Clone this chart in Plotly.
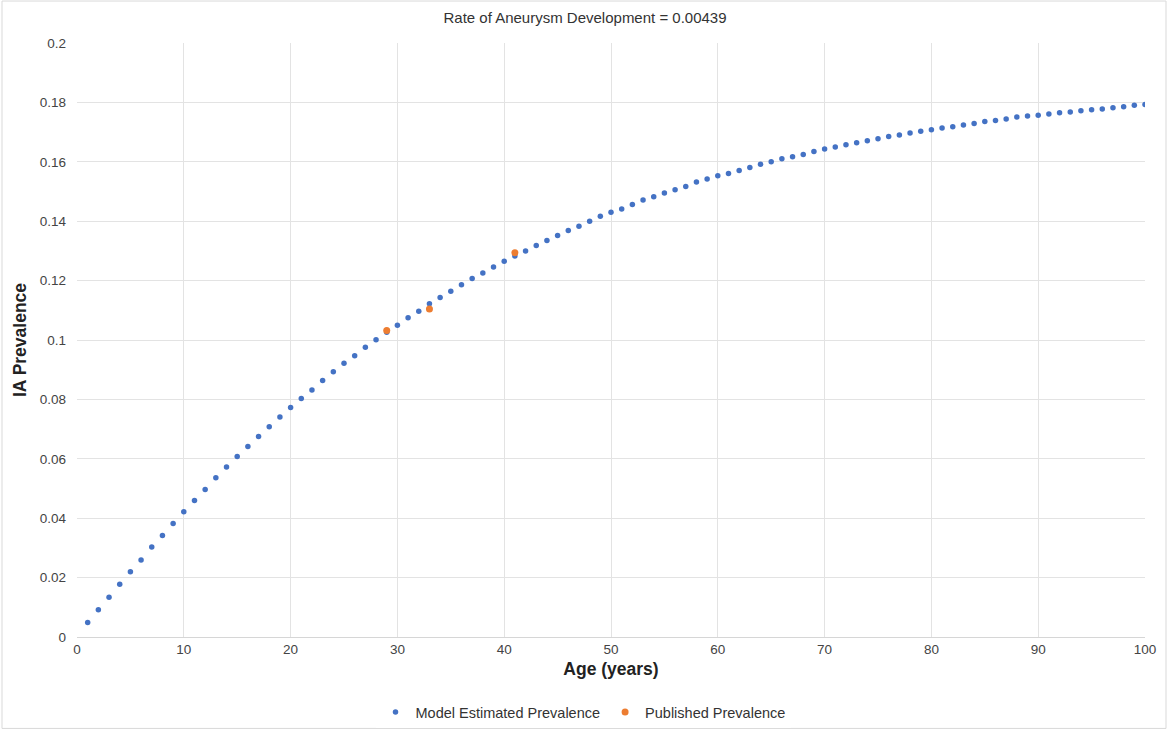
import plotly.graph_objects as go

ages = list(range(1, 101))
model_prevalence = [
    0.0049, 0.0092, 0.0134, 0.0178, 0.0220, 0.0259, 0.0303, 0.0342, 0.0382, 0.0422,
    0.0460, 0.0497, 0.0536, 0.0572, 0.0608, 0.0641, 0.0675, 0.0708, 0.0741, 0.0773,
    0.0803, 0.0832, 0.0864, 0.0893, 0.0922, 0.0947, 0.0976, 0.1001, 0.1026, 0.1050,
    0.1075, 0.1097, 0.1122, 0.1143, 0.1164, 0.1186, 0.1207, 0.1226, 0.1246, 0.1265,
    0.1283, 0.1300, 0.1318, 0.1335, 0.1352, 0.1369, 0.1383, 0.1400, 0.1417, 0.1430,
    0.1441, 0.1456, 0.1471, 0.1482, 0.1495, 0.1506, 0.1517, 0.1532, 0.1542, 0.1553,
    0.1561, 0.1571, 0.1581, 0.1592, 0.1600, 0.1610, 0.1617, 0.1625, 0.1635, 0.1643,
    0.1650, 0.1657, 0.1664, 0.1671, 0.1678, 0.1685, 0.1690, 0.1697, 0.1703, 0.1708,
    0.1714, 0.1718, 0.1724, 0.1729, 0.1736, 0.1739, 0.1744, 0.1751, 0.1754, 0.1757,
    0.1761, 0.1765, 0.1768, 0.1772, 0.1775, 0.1778, 0.1782, 0.1785, 0.1790, 0.1793,
]
published_ages = [29, 33, 41]
published_prevalence = [0.1032, 0.1104, 0.1294]

x_ticks = [0, 10, 20, 30, 40, 50, 60, 70, 80, 90, 100]
y_ticks = [0, 0.02, 0.04, 0.06, 0.08, 0.1, 0.12, 0.14, 0.16, 0.18, 0.2]
y_tick_labels = ["0", "0.02", "0.04", "0.06", "0.08", "0.1", "0.12", "0.14", "0.16", "0.18", "0.2"]

FONT = "Arial, Liberation Sans, Helvetica, sans-serif"
W, H = 1168, 730
L, R, T, B = 77, 1145, 43, 637.5
PW, PH = R - L, B - T

fig = go.Figure()
fig.add_trace(go.Scatter(
    x=ages, y=model_prevalence, mode="markers", name="Model Estimated Prevalence",
    marker=dict(color="#4472C4", size=5.5),
))
fig.add_trace(go.Scatter(
    x=published_ages, y=published_prevalence, mode="markers", name="Published Prevalence",
    marker=dict(color="#ED7D31", size=7),
))

fig.update_layout(
    width=W, height=H,
    paper_bgcolor="white", plot_bgcolor="white",
    margin=dict(l=L, r=W - R, t=T, b=H - B),
    font=dict(family=FONT, color="#444444", size=13),
    title=dict(text="Rate of Aneurysm Development = 0.00439", x=585 / W, xref="container",
               y=1 - 18 / H, yref="container", yanchor="middle", xanchor="center",
               font=dict(size=15, color="#333333", family=FONT)),
    showlegend=True,
    legend=dict(orientation="h", x=583 / W, xanchor="center", xref="container",
                y=1 - 712 / H, yref="container", yanchor="middle",
                font=dict(size=14.5, color="#333333"), itemwidth=30,
                tracegroupgap=0),
    xaxis=dict(range=[0, 100], tickvals=x_ticks, showgrid=True, gridcolor="#e3e3e3",
               gridwidth=1, zeroline=False, showline=True, linecolor="#d6d6d6",
               ticks="", tickfont=dict(size=13.5, color="#444444"),
               title=dict(text="<b>Age (years)</b>", font=dict(size=17.5, color="#222222"), standoff=6)),
    yaxis=dict(range=[0, 0.2], tickvals=y_ticks, ticktext=y_tick_labels, showgrid=True,
               gridcolor="#e3e3e3", gridwidth=1, zeroline=False, showline=False,
               ticks="", ticklabelstandoff=10, tickfont=dict(size=13.5, color="#444444"),
               title=dict(text="<b>IA Prevalence</b>", font=dict(size=17.5, color="#222222"), standoff=8)),
    shapes=[dict(type="rect", xref="paper", yref="paper",
                 x0=(2 - L) / PW, x1=(1166 - L) / PW,
                 y0=(B - 729) / PH, y1=(B - 1) / PH,
                 line=dict(color="#d9d9d9", width=1), layer="below")],
)

fig.write_html("out.html", config={"displayModeBar": False},
               post_script="document.body.style.margin='0px';")
